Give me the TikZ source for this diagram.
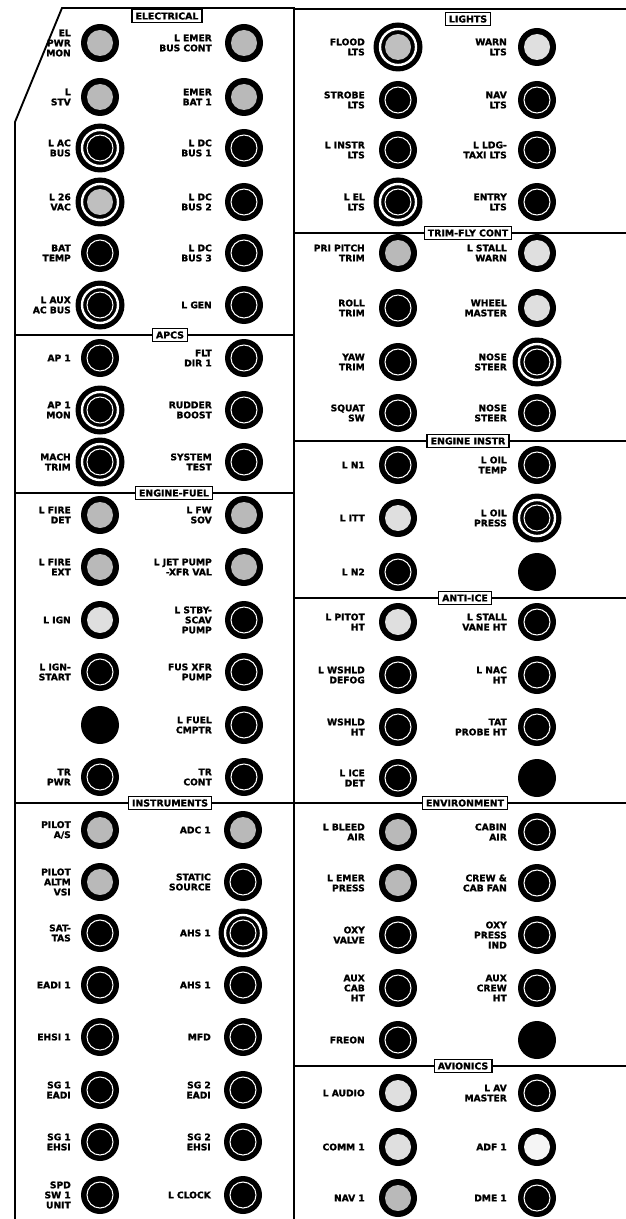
\documentclass[tikz,border=0pt]{standalone}
\usepackage{fontspec}
\newfontfamily\panelfont{DejaVu Sans}[BoldFeatures={FakeBold=1.5}]
\usetikzlibrary{positioning}

\begin{document}
\begin{tikzpicture}[
    x=0.3mm, y=-0.3mm,
    font=\panelfont\fontsize{7.8}{8.6}\selectfont\bfseries,
    frame/.style={line width=1.6pt},
    divider/.style={line width=1.4pt},
    title/.style={draw, line width=1.3pt, fill=white, inner xsep=3pt, inner ysep=0.5pt,
                  minimum height=11pt, font=\panelfont\fontsize{8}{8}\selectfont\bfseries},
    lbl/.style={anchor=east, align=right, inner sep=0pt},
    cb/.style={circle, fill=black, inner sep=0pt, minimum size=11.4mm,
               path picture={\draw[white, line width=0.9pt] (path picture bounding box.center) circle (3.9mm);}},
    cbx/.style={circle, fill=black, inner sep=0pt, minimum size=14.7mm,
                path picture={\draw[white, line width=2pt] (path picture bounding box.center) circle (5.4mm);
                              \draw[white, line width=0.9pt] (path picture bounding box.center) circle (3.9mm);}},
    spk/.style={circle, fill=black, inner sep=0pt, minimum size=11.4mm,
                path picture={\fill[gray!55] (path picture bounding box.center) circle (3.9mm);}},
    spkl/.style={circle, fill=black, inner sep=0pt, minimum size=11.4mm,
                 path picture={\fill[gray!25] (path picture bounding box.center) circle (3.9mm);}},
    spkw/.style={circle, fill=black, inner sep=0pt, minimum size=11.4mm,
                 path picture={\fill[gray!8] (path picture bounding box.center) circle (3.9mm);}},
    spkx/.style={circle, fill=black, inner sep=0pt, minimum size=14.7mm,
                 path picture={\draw[white, line width=2pt] (path picture bounding box.center) circle (5.4mm);
                               \fill[gray!50] (path picture bounding box.center) circle (3.9mm);}},
    cbblank/.style={circle, fill=black, inner sep=0pt, minimum size=11.4mm},
  ]
  \useasboundingbox (0,0) rectangle (626,1219);

  % panel frame
  \draw[frame] (294,1219) -- (294,8) -- (62,8) -- (15,122) -- (15,1219);
  \draw[frame] (294,9) -- (626,9);
  \draw[divider] (15,335) -- (294,335);
  \draw[divider] (15,493) -- (294,493);
  \draw[divider] (15,803) -- (294,803);
  \draw[divider] (294,233) -- (626,233);
  \draw[divider] (294,441) -- (626,441);
  \draw[divider] (294,598) -- (626,598);
  \draw[divider] (294,803) -- (626,803);
  \draw[divider] (294,1066) -- (626,1066);

  % section titles
  \node[title] (t-elec) at (167,16)   {ELECTRICAL};
  \node[title] (t-apcs) at (170,335)  {APCS};
  \node[title] (t-fuel) at (174,493)  {ENGINE-FUEL};
  \node[title] (t-inst) at (170,803)  {INSTRUMENTS};
  \node[title] (t-lts)  at (468,19)   {LIGHTS};
  \node[title] (t-trim) at (468,233)  {TRIM-FLY CONT};
  \node[title] (t-eng)  at (468,441)  {ENGINE INSTR};
  \node[title] (t-ice)  at (465,598)  {ANTI-ICE};
  \node[title] (t-env)  at (465,803)  {ENVIRONMENT};
  \node[title] (t-avn)  at (463,1066) {AVIONICS};

  % electrical
  \foreach \y/\sa/\ta/\sb/\tb [count=\i] in {
      43/spk/{EL\\PWR\\MON}/spk/{L EMER\\BUS CONT},
      97/spk/{L\\STV}/spk/{EMER\\BAT 1},
      148/cbx/{L AC\\BUS}/cb/{L DC\\BUS 1},
      202/spkx/{L 26\\VAC}/cb/{L DC\\BUS 2},
      253/cb/{BAT\\TEMP}/cb/{L DC\\BUS 3},
      305/cbx/{L AUX\\AC BUS}/cb/{L GEN}}{
    \node[\sa] (elec-l\i) at (100,\y) {};
    \node[lbl] (elec-l\i-txt) at (71,\y) {\ta};
    \node[\sb] (elec-r\i) at (244,\y) {};
    \node[lbl] (elec-r\i-txt) at (212,\y) {\tb};
  }

  % apcs
  \foreach \y/\sa/\ta/\sb/\tb [count=\i] in {
      358/cb/{AP 1}/cb/{FLT\\DIR 1},
      410/cbx/{AP 1\\MON}/cb/{RUDDER\\BOOST},
      462/cbx/{MACH\\TRIM}/cb/{SYSTEM\\TEST}}{
    \node[\sa] (apcs-l\i) at (100,\y) {};
    \node[lbl] (apcs-l\i-txt) at (71,\y) {\ta};
    \node[\sb] (apcs-r\i) at (244,\y) {};
    \node[lbl] (apcs-r\i-txt) at (212,\y) {\tb};
  }

  % engine-fuel
  \foreach \y/\sa/\ta/\sb/\tb [count=\i] in {
      515/spk/{L FIRE\\DET}/spk/{L FW\\SOV},
      567/spk/{L FIRE\\EXT}/spk/{L JET PUMP\\-XFR VAL},
      620/spkl/{L IGN}/cb/{L STBY-\\SCAV\\PUMP},
      672/cb/{L IGN-\\START}/cb/{FUS XFR\\PUMP},
      725/cbblank/{}/cb/{L FUEL\\CMPTR},
      777/cb/{TR\\PWR}/cb/{TR\\CONT}}{
    \node[\sa] (fuel-l\i) at (100,\y) {};
    \node[lbl] (fuel-l\i-txt) at (71,\y) {\ta};
    \node[\sb] (fuel-r\i) at (244,\y) {};
    \node[lbl] (fuel-r\i-txt) at (212,\y) {\tb};
  }

  % instruments
  \foreach \y/\sa/\ta/\sb/\tb [count=\i] in {
      830/spk/{PILOT\\A/S}/spk/{ADC 1},
      882/spk/{PILOT\\ALTM\\VSI}/cb/{STATIC\\SOURCE},
      933/cb/{SAT-\\TAS}/cbx/{AHS 1},
      985/cb/{EADI 1}/cb/{AHS 1},
      1037/cb/{EHSI 1}/cb/{MFD},
      1090/cb/{SG 1\\EADI}/cb/{SG 2\\EADI},
      1142/cb/{SG 1\\EHSI}/cb/{SG 2\\EHSI},
      1195/cb/{SPD\\SW 1\\UNIT}/cb/{L CLOCK}}{
    \node[\sa] (inst-l\i) at (100,\y) {};
    \node[lbl] (inst-l\i-txt) at (71,\y) {\ta};
    \node[\sb] (inst-r\i) at (243,\y) {};
    \node[lbl] (inst-r\i-txt) at (211,\y) {\tb};
  }

  % lights
  \foreach \y/\sa/\ta/\sb/\tb [count=\i] in {
      47/spkx/{FLOOD\\LTS}/spkl/{WARN\\LTS},
      100/cb/{STROBE\\LTS}/cb/{NAV\\LTS},
      150/cb/{L INSTR\\LTS}/cb/{L LDG-\\TAXI LTS},
      202/cbx/{L EL\\LTS}/cb/{ENTRY\\LTS}}{
    \node[\sa] (lts-l\i) at (398,\y) {};
    \node[lbl] (lts-l\i-txt) at (365,\y) {\ta};
    \node[\sb] (lts-r\i) at (537,\y) {};
    \node[lbl] (lts-r\i-txt) at (507,\y) {\tb};
  }

  % trim-fly cont
  \foreach \y/\sa/\ta/\sb/\tb [count=\i] in {
      253/spk/{PRI PITCH\\TRIM}/spkl/{L STALL\\WARN},
      308/cb/{ROLL\\TRIM}/spkl/{WHEEL\\MASTER},
      362/cb/{YAW\\TRIM}/cbx/{NOSE\\STEER},
      413/cb/{SQUAT\\SW}/cb/{NOSE\\STEER}}{
    \node[\sa] (trim-l\i) at (398,\y) {};
    \node[lbl] (trim-l\i-txt) at (365,\y) {\ta};
    \node[\sb] (trim-r\i) at (537,\y) {};
    \node[lbl] (trim-r\i-txt) at (507,\y) {\tb};
  }

  % engine instr
  \foreach \y/\sa/\ta/\sb/\tb [count=\i] in {
      465/cb/{L N1}/cb/{L OIL\\TEMP},
      518/spkl/{L ITT}/cbx/{L OIL\\PRESS},
      572/cb/{L N2}/cbblank/{}}{
    \node[\sa] (eng-l\i) at (398,\y) {};
    \node[lbl] (eng-l\i-txt) at (365,\y) {\ta};
    \node[\sb] (eng-r\i) at (537,\y) {};
    \node[lbl] (eng-r\i-txt) at (507,\y) {\tb};
  }

  % anti-ice
  \foreach \y/\sa/\ta/\sb/\tb [count=\i] in {
      622/spkl/{L PITOT\\HT}/cb/{L STALL\\VANE HT},
      675/cb/{L WSHLD\\DEFOG}/cb/{L NAC\\HT},
      727/cb/{WSHLD\\HT}/cb/{TAT\\PROBE HT},
      778/cb/{L ICE\\DET}/cbblank/{}}{
    \node[\sa] (ice-l\i) at (398,\y) {};
    \node[lbl] (ice-l\i-txt) at (365,\y) {\ta};
    \node[\sb] (ice-r\i) at (537,\y) {};
    \node[lbl] (ice-r\i-txt) at (507,\y) {\tb};
  }

  % environment
  \foreach \y/\sa/\ta/\sb/\tb [count=\i] in {
      832/spk/{L BLEED\\AIR}/cb/{CABIN\\AIR},
      883/spk/{L EMER\\PRESS}/cb/{CREW \&\\CAB FAN},
      935/cb/{OXY\\VALVE}/cb/{OXY\\PRESS\\IND},
      988/cb/{AUX\\CAB\\HT}/cb/{AUX\\CREW\\HT},
      1040/cb/{FREON}/cbblank/{}}{
    \node[\sa] (env-l\i) at (398,\y) {};
    \node[lbl] (env-l\i-txt) at (365,\y) {\ta};
    \node[\sb] (env-r\i) at (537,\y) {};
    \node[lbl] (env-r\i-txt) at (507,\y) {\tb};
  }

  % avionics
  \foreach \y/\sa/\ta/\sb/\tb [count=\i] in {
      1093/spkl/{L AUDIO}/cb/{L AV\\MASTER},
      1147/spkl/{COMM 1}/spkw/{ADF 1},
      1198/spk/{NAV 1}/cb/{DME 1}}{
    \node[\sa] (avn-l\i) at (398,\y) {};
    \node[lbl] (avn-l\i-txt) at (365,\y) {\ta};
    \node[\sb] (avn-r\i) at (537,\y) {};
    \node[lbl] (avn-r\i-txt) at (507,\y) {\tb};
  }
\end{tikzpicture}
\end{document}
